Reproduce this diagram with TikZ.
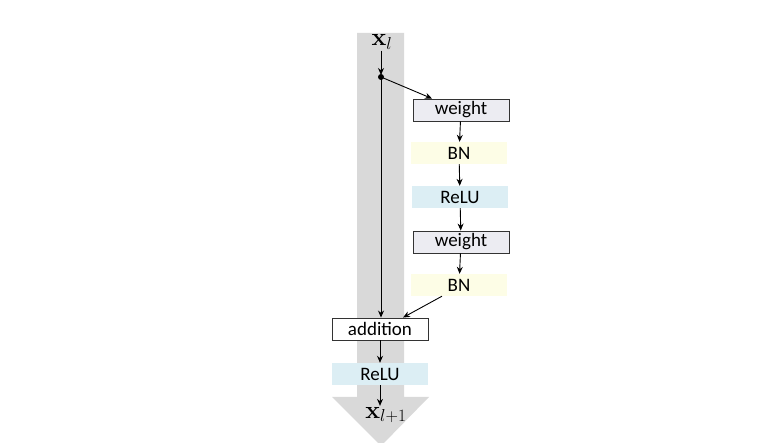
\documentclass[tikz,border=0pt]{standalone}
\usepackage[no-math]{fontspec}
\setmainfont{Carlito}
\usetikzlibrary{arrows.meta}
\definecolor{bandgray}{HTML}{D9D9D9}
\definecolor{wfill}{HTML}{ECECF2}
\definecolor{bnfill}{HTML}{FDFDE6}
\definecolor{relufill}{HTML}{DCEEF4}
\begin{document}
\begin{tikzpicture}[x=1pt,y=-1pt,
    layer/.style={minimum width=96pt, minimum height=22pt, inner sep=0pt,
        font=\fontsize{19}{21}\selectfont},
    wbox/.style={layer, draw=black!80, fill=wfill, line width=0.9pt},
    bnbox/.style={layer, fill=bnfill},
    relubox/.style={layer, fill=relufill},
    addbox/.style={layer, draw=black!80, fill=white, line width=0.9pt},
    flow/.style={-{Stealth[length=7pt,width=6pt]}, line width=0.9pt}]
            \useasboundingbox (0,0) rectangle (774,443);
            \fill[bandgray] (357,33) -- (404,33) -- (404,397) -- (429,397)
                -- (381,446) -- (332,397) -- (357,397) -- cycle;
            \node[inner sep=1pt] (xin) at (382,42) {\fontsize{23}{24}\selectfont$\mathbf{x}_{l}$};
            \coordinate (split) at (381,77);
            \node[wbox] (w1) at (461,110) {weight};
            \node[bnbox] (bn1) at (459,153) {BN};
            \node[relubox] (relu1) at (460,197) {ReLU};
            \node[wbox] (w2) at (461,242) {weight};
            \node[bnbox] (bn2) at (459,285) {BN};
            \node[addbox] (add) at (380,329) {addition};
            \node[relubox] (relu2) at (380,374) {ReLU};
            \node[inner sep=1pt] (xout) at (386,415) {\fontsize{23}{24}\selectfont$\mathbf{x}_{l+1}$};
            \draw[flow, shorten >=2pt] (xin.south -| split) -- (split);
            \draw[flow] (split) -- (add.north -| split);
            \draw[flow] (split) -- (w1.north west -| 432,0);
            \fill (split) circle (3pt);
            \draw[flow] (w1) -- (bn1);
            \draw[flow] (bn1) -- (relu1);
            \draw[flow] (relu1) -- (w2);
            \draw[flow] (w2) -- (bn2);
            \draw[flow] (bn2.south west -| 442,0) -- (add.north -| 403,0);
            \draw[flow] (add) -- (relu2);
            \draw[flow] (relu2) -- (xout.north -| relu2);
        \end{tikzpicture}
\end{document}
